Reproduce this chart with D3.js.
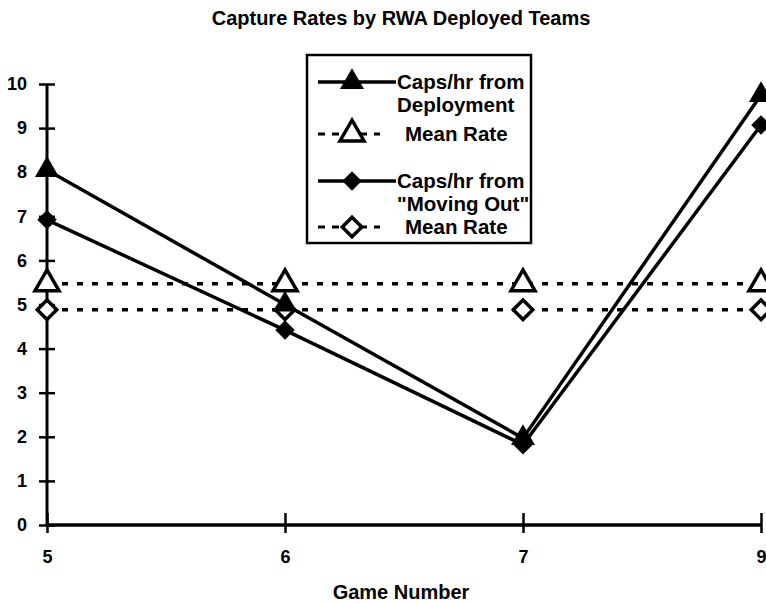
<!DOCTYPE html>
<html lang="en">
<head>
    <meta charset="UTF-8">
    <title>Capture Rates by RWA Deployed Teams</title>
    <script src="https://d3js.org/d3.v7.min.js"></script>
    <style>
        body { margin: 0; background: #fff; }
        text { font-family: "Liberation Sans", Arial, sans-serif; font-weight: bold; fill: #000; }
    </style>
</head>
<body>
    <div id="chart"></div>
    <script>
        // data
        const games = ["5", "6", "7", "9"];
        const capsDeploy = [8.05, 5.0, 1.97, 9.75];
        const capsMoving = [6.92, 4.42, 1.82, 9.07];
        const meanDeploy = [5.47, 5.47, 5.47, 5.47];
        const meanMoving = [4.88, 4.88, 4.88, 4.88];
        const yTicks = [0, 1, 2, 3, 4, 5, 6, 7, 8, 9, 10];

        const W = 766, H = 604;
        const svg = d3.select('#chart')
            .append('svg')
                .attr('width', W)
                .attr('height', H);

        const x = d3.scalePoint()
            .domain(games)
            .range([47, 761]);
        const y = d3.scaleLinear()
            .domain([0, 10])
            .range([525, 84]);

        // title
        svg.append('text')
            .attr('x', 401).attr('y', 25)
            .attr('text-anchor', 'middle')
            .style('font-size', '20px')
            .text('Capture Rates by RWA Deployed Teams');

        // y axis
        const yAxis = svg.append('g')
            .attr('transform', `translate(${x('5')},0)`)
            .call(d3.axisLeft(y).tickValues(yTicks).tickSize(8).tickFormat(d3.format('d')));
        yAxis.select('.domain').remove();
        yAxis.append('line')
            .attr('y1', y(0)).attr('y2', y(10))
            .attr('stroke', '#000').attr('stroke-width', 3);
        yAxis.selectAll('.tick line')
            .attr('x1', -8).attr('x2', 8)
            .attr('stroke-width', 2.5);
        yAxis.selectAll('.tick text')
            .attr('x', -20)
            .style('font-size', '18px')
            .style('font-family', '"Liberation Sans", Arial, sans-serif')
            .style('font-weight', 'bold');

        // x axis
        const xAxis = svg.append('g')
            .attr('transform', `translate(0,${y(0)})`)
            .call(d3.axisBottom(x).tickSize(9));
        xAxis.select('.domain').remove();
        xAxis.append('line')
            .attr('x1', x('5')).attr('x2', x('9'))
            .attr('stroke', '#000').attr('stroke-width', 3.5);
        xAxis.selectAll('.tick line')
            .attr('y1', -12).attr('y2', 8)
            .attr('stroke-width', 2.5);
        xAxis.selectAll('.tick text')
            .attr('y', 25)
            .style('font-size', '18px')
            .style('font-family', '"Liberation Sans", Arial, sans-serif')
            .style('font-weight', 'bold');

        svg.append('text')
            .attr('x', 401).attr('y', 599)
            .attr('text-anchor', 'middle')
            .style('font-size', '20px')
            .text('Game Number');

        const tri = d3.symbol().type(d3.symbolTriangle).size(250);
        const sq = d3.symbol().type(d3.symbolSquare).size(190);
        const line = d3.line().x((d, i) => x(games[i])).y(d => y(d));

        // mean rate dotted lines
        [meanDeploy, meanMoving].forEach(vals => {
            svg.append('path')
                .datum(vals)
                .attr('d', line)
                .attr('fill', 'none')
                .attr('stroke', '#000')
                .attr('stroke-width', 3.5)
                .attr('stroke-dasharray', '6,9');
        });

        // solid series
        [capsDeploy, capsMoving].forEach(vals => {
            svg.append('path')
                .datum(vals)
                .attr('d', line)
                .attr('fill', 'none')
                .attr('stroke', '#000')
                .attr('stroke-width', 3.5)
                .attr('stroke-linejoin', 'round');
        });

        // markers
        svg.selectAll('.mdep')
            .data(meanDeploy)
            .join('path')
                .attr('transform', (d, i) => `translate(${x(games[i])},${y(d)})`)
                .attr('d', tri)
                .attr('fill', '#fff').attr('stroke', '#000').attr('stroke-width', 3.5);
        svg.selectAll('.mmov')
            .data(meanMoving)
            .join('path')
                .attr('transform', (d, i) => `translate(${x(games[i])},${y(d)}) rotate(45)`)
                .attr('d', sq)
                .attr('fill', '#fff').attr('stroke', '#000').attr('stroke-width', 3.5);
        svg.selectAll('.cdep')
            .data(capsDeploy)
            .join('path')
                .attr('transform', (d, i) => `translate(${x(games[i])},${y(d)})`)
                .attr('d', tri)
                .attr('fill', '#000');
        svg.selectAll('.cmov')
            .data(capsMoving)
            .join('path')
                .attr('transform', (d, i) => `translate(${x(games[i])},${y(d)}) rotate(45)`)
                .attr('d', sq)
                .attr('fill', '#000');

        // legend
        const lg = svg.append('g');
        lg.append('rect')
            .attr('x', 307).attr('y', 55)
            .attr('width', 224).attr('height', 188)
            .attr('fill', '#fff').attr('stroke', '#000').attr('stroke-width', 2.5);

        const entries = [
            {y: 82, dashed: false, sym: tri, fill: '#000', rot: 0, lines: ['Caps/hr from', 'Deployment'], tx: 397},
            {y: 134, dashed: true, sym: tri, fill: '#fff', rot: 0, lines: ['Mean Rate'], tx: 405},
            {y: 181, dashed: false, sym: sq, fill: '#000', rot: 45, lines: ['Caps/hr from', '"Moving Out"'], tx: 397},
            {y: 227, dashed: true, sym: sq, fill: '#fff', rot: 45, lines: ['Mean Rate'], tx: 405}
        ];
        entries.forEach(e => {
            if (e.dashed) {
                lg.append('line')
                    .attr('x1', 318).attr('x2', 380)
                    .attr('y1', e.y).attr('y2', e.y)
                    .attr('stroke', '#000').attr('stroke-width', 3)
                    .attr('stroke-dasharray', '7,7');
            } else {
                lg.append('line')
                    .attr('x1', 318).attr('x2', 396)
                    .attr('y1', e.y).attr('y2', e.y)
                    .attr('stroke', '#000').attr('stroke-width', 3.5);
            }
            lg.append('path')
                .attr('transform', `translate(352,${e.y}) rotate(${e.rot})`)
                .attr('d', e.sym)
                .attr('fill', e.fill)
                .attr('stroke', e.fill === '#fff' ? '#000' : 'none')
                .attr('stroke-width', 3.5);
            e.lines.forEach((t, i) => {
                lg.append('text')
                    .attr('x', e.tx).attr('y', e.y + 7 + i * 23)
                    .style('font-size', '20.5px')
                    .text(t);
            });
        });
    </script>
</body>
</html>
